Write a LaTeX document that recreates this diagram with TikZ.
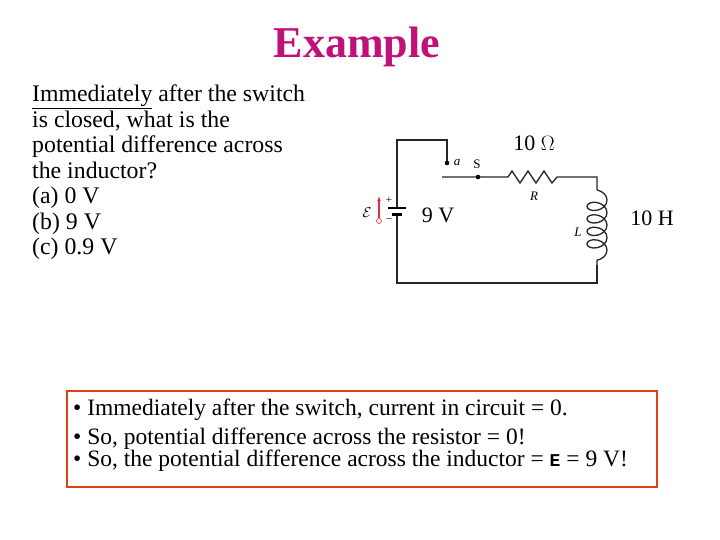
\documentclass[tikz,border=0pt]{standalone}
\usepackage{fontspec}
\setmainfont{Liberation Serif}
\setmonofont{Liberation Mono}
\usetikzlibrary{decorations.pathmorphing,arrows.meta}
\definecolor{titlec}{HTML}{C0107A}
\definecolor{boxc}{HTML}{E04018}
\definecolor{emfred}{HTML}{E03040}
\tikzset{wire/.style={line width=1.3pt,black!85},
 lbl/.style={inner sep=0pt,font=\fontsize{22}{24}\selectfont},
 small/.style={inner sep=0pt,font=\fontsize{13}{14}\selectfont\itshape},
 boxtxt/.style={inner sep=0pt,anchor=west,font=\fontsize{23.5}{25}\selectfont}}
\begin{document}
\begin{tikzpicture}[x=1pt,y=-1pt]
\useasboundingbox (0,0) rectangle (720,540);
\node[inner sep=0pt,text=titlec,font=\fontsize{44}{46}\selectfont\bfseries] (title) at (357,47) {Example};
\node[inner sep=0pt,anchor=north west,align=left,font=\fontsize{23.8}{25.5}\selectfont] (q) at (32,85)
{\underline{Immediately} after the switch\\is closed, what is the\\potential difference across\\the inductor?\\(a) 0 V\\(b) 9 V\\(c) 0.9 V};
% circuit
\coordinate (bl) at (397,283); \coordinate (tl) at (397,140); \coordinate (tr) at (447,140);
\coordinate (a) at (447,163); \coordinate (sw) at (442,177); \coordinate (s) at (478,177);
\coordinate (r1) at (508,177); \coordinate (r2) at (557,177); \coordinate (cr) at (597,177);
\coordinate (l1) at (597,190); \coordinate (l2) at (597,265); \coordinate (br) at (597,283);
\coordinate (b1) at (397,208); \coordinate (b2) at (397,215);
\draw[wire] (b1) -- (tl) -- (tr) -- (a);
\draw[wire] (sw) -- (s) -- (r1) -- ++(4,-6) -- ++(8,12) -- ++(8,-12) -- ++(8,12) -- ++(8,-12) -- ++(8,12) -- (r2) -- (cr) -- (l1);
\draw[wire,decorate,decoration={coil,aspect=0.7,segment length=12.5pt,amplitude=10pt}] (l1) -- (l2);
\draw[wire] (l2) -- (br) -- (bl) -- (b2);
\draw[line width=1.5pt] (388,208) -- (406,208);
\draw[line width=3pt] (392,215) -- (402,215);
\fill (a) circle (2.3); \fill (s) circle (2.3);
\node[small] (la) at (457,163) {a};
\node[inner sep=0pt,font=\fontsize{13}{14}\selectfont] (ls) at (477,164) {S};
\node[small] (lr) at (534,196) {R};
\node[small] (ll) at (578,232) {L};
\node[inner sep=0pt,font=\fontsize{11}{12}\selectfont] (plus) at (389,200) {+};
\node[inner sep=0pt,font=\fontsize{11}{12}\selectfont] (minus) at (389,220) {–};
\node[inner sep=0pt,font=\fontsize{15}{16}\selectfont] (emf) at (367,213) {$\mathcal{E}$};
\coordinate (ea) at (379,196);
\draw[emfred,line width=1.5pt,-{Latex[length=5pt]}] (379,218) -- (ea);
\draw[emfred,line width=0.6pt] (379,221) circle (2.5);
\node[lbl] (v) at (438,215) {9 V};
\node[lbl] (om) at (534,143) {10 $\Omega$};
\node[lbl] (h) at (652,218) {10 H};
% box
\draw[boxc,line width=2.5pt] (67,391) rectangle (657,487);
\node[boxtxt] (t1) at (73,410) {• Immediately after the switch, current in circuit = 0.};
\node[boxtxt] (t2) at (73,439) {• So, potential difference across the resistor = 0!};
\node[boxtxt] (t3) at (73,461) {• So, the potential difference across the inductor = {\fontsize{18}{20}\selectfont\texttt{\textbf{E}}} = 9 V!};
\end{tikzpicture}
\end{document}
